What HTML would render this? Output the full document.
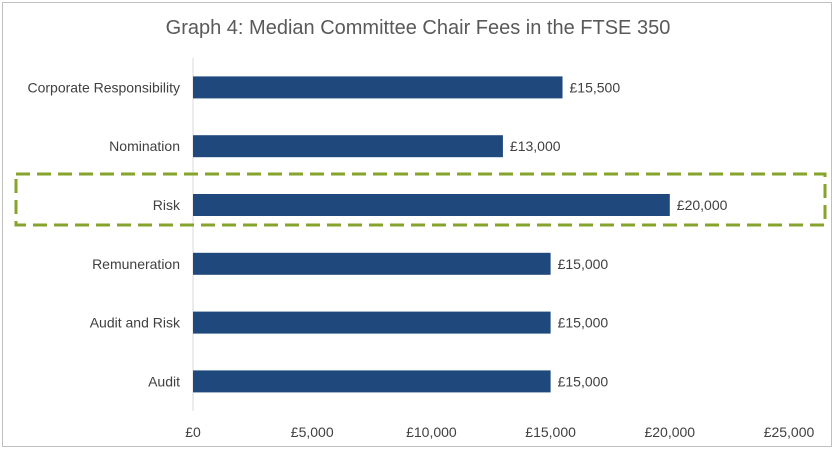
<!DOCTYPE html>
<html><head><meta charset="utf-8"><style>
body{margin:0;background:#fff;font-family:"Liberation Sans",sans-serif;}
svg text{font-family:"Liberation Sans",sans-serif;}
</style></head><body>
<svg id="chart" width="836" height="453" viewBox="0 0 836 453">
<rect x="2.5" y="2.5" width="829" height="444" fill="#fff" stroke="#bfbfbf"/>
<text x="418" y="34" text-anchor="middle" font-size="20" fill="#595959">Graph 4: Median Committee Chair Fees in the FTSE 350</text>
<g id="plot"></g>
<rect x="16" y="174" width="809" height="51" fill="none" stroke="#86a32b" stroke-width="3" stroke-dasharray="14,7"/>
</svg>
<script>
const categories=["Corporate Responsibility","Nomination","Risk","Remuneration","Audit and Risk","Audit"];
const values=[15500,13000,20000,15000,15000,15000];
const valueLabels=["£15,500","£13,000","£20,000","£15,000","£15,000","£15,000"];
const ticks=[0,5000,10000,15000,20000,25000];
const tickLabels=["£0","£5,000","£10,000","£15,000","£20,000","£25,000"];
const NS="http://www.w3.org/2000/svg";
const g=document.getElementById("plot");
const x0=193,x1=789,max=25000;
const xs=v=>x0+(x1-x0)*v/max;
const yTop=58,band=58.8;
const yc=i=>yTop+band*(i+0.5);
function mk(t,a){const e=document.createElementNS(NS,t);for(const k in a)e.setAttribute(k,a[k]);g.appendChild(e);return e;}
const ax=mk("line",{x1:x0,x2:x0,y1:yTop,y2:yTop+band*6,stroke:"#d9d9d9","stroke-width":1});


categories.forEach((c,i)=>{
 const b=mk("rect",{x:x0,y:yc(i)-11,width:xs(values[i])-x0,height:22,fill:"#1f497d"});
 
 
 const l=mk("text",{x:180,y:yc(i)+5,"text-anchor":"end","font-size":14,fill:"#404040"});
 l.textContent=c;
 
 
 const v=mk("text",{x:xs(values[i])+7,y:yc(i)+5,"font-size":14,fill:"#404040"});
 v.textContent=valueLabels[i];
 
 
});
ticks.forEach((t,i)=>{
 const e=mk("text",{x:xs(t),y:437,"text-anchor":"middle","font-size":14,fill:"#404040"});
 e.textContent=tickLabels[i];
 
 
});
</script>
</body></html>
